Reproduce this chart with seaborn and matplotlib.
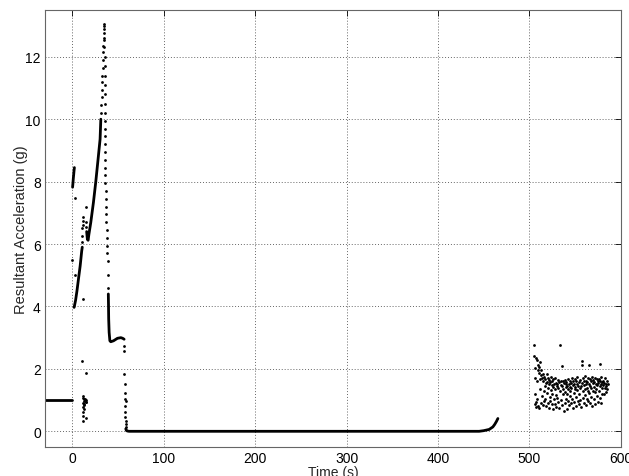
import matplotlib
matplotlib.use("Agg")
import matplotlib.pyplot as plt
import seaborn as sns

# --- resting before launch (dense trace) ---
rest_t = [-31.0, 0.0]
rest_a = [1.0, 1.0]

# short burst right at t=0
burst_t = [0.2, 0.6, 1.0, 1.4, 1.8, 2.2]
burst_a = [7.82, 7.95, 8.1, 8.22, 8.35, 8.45]

# first climb (dense)
climb_t = [1.9, 3.5, 5.0, 6.6, 8.5, 10.2, 10.8]
climb_a = [3.97, 4.2, 4.5, 4.87, 5.3, 5.78, 5.9]

# main ramp (dense)
ramp_t = [15.6, 16.4, 17.2, 18.0, 20.1, 23.0, 25.6, 28.1, 30.3, 31.1]
ramp_a = [6.4, 6.15, 6.12, 6.3, 6.69, 7.33, 8.0, 8.72, 9.36, 10.0]

# drop and plateau (dense)
plat_t = [39.3, 39.5, 39.7, 40.2, 41.0, 42.0, 45.0, 49.3, 53.0, 55.0, 56.6]
plat_a = [4.4, 4.05, 3.6, 3.17, 2.9, 2.87, 2.9, 2.98, 3.0, 2.98, 2.95]

# long zero stretch and final rise (dense)
zero_t = [58.4, 59.0, 60.0, 62.0, 445.0, 450.0, 456.0, 460.0, 462.0, 464.0, 465.5]
zero_a = [0.08, 0.03, 0.01, 0.0, 0.0, 0.02, 0.06, 0.14, 0.22, 0.32, 0.41]

# sparse samples in the first minute
early_t = [2.6, 0.0, 2.6, 11.7,
           10.9, 11.0, 11.0, 11.1, 11.1, 11.2, 14.5, 14.6, 14.6,
           11.0, 14.6, 11.3, 12.0, 12.6, 13.2, 13.8, 14.4, 11.5, 12.2, 13.0,
           11.6, 12.4, 11.2, 11.4, 11.3, 14.5, 14.8, 15.0,
           31.4, 31.7, 32.0, 32.3, 32.6, 32.9, 33.2, 33.5, 33.8, 34.0, 34.2,
           34.4, 34.6, 34.7, 34.8, 35.0, 35.1, 35.2, 35.3, 35.4, 35.5, 35.6,
           35.7, 35.8, 35.8, 35.9, 35.9, 36.0, 36.0, 36.1, 36.1, 36.2, 36.2,
           36.3, 36.4, 36.6, 36.9, 37.2, 37.5, 37.8, 38.1, 38.4, 38.7, 39.0, 39.2,
           56.7, 56.8, 57.0, 57.1, 57.3, 57.8, 58.2, 57.9, 57.9, 58.0, 58.1, 58.2, 58.3]
early_a = [7.47, 5.5, 5.0, 4.23,
           6.05, 6.25, 6.5, 6.6, 6.75, 6.87, 6.55, 6.7, 7.2,
           2.25, 1.88, 1.12, 1.08, 1.02, 0.98, 1.05, 0.95, 0.92, 0.88, 0.85,
           0.78, 0.72, 0.62, 0.49, 0.33, 0.42, 1.0, 0.93,
           10.2, 10.45, 10.7, 10.95, 11.2, 11.4, 11.65, 11.9, 12.15, 12.35, 12.55,
           12.75, 12.9, 13.05, 12.98, 12.6, 12.3, 12.0, 11.7, 11.4, 11.1, 10.8,
           10.5, 10.2, 9.95, 9.7, 9.45, 9.2, 8.95, 8.7, 8.45, 8.2, 7.95,
           7.7, 7.45, 7.2, 6.95, 6.7, 6.45, 6.2, 5.95, 5.7, 5.45, 5.0, 4.6,
           2.73, 2.57, 1.83, 1.5, 1.23, 1.05, 0.97, 0.81, 0.61, 0.45, 0.33, 0.22, 0.13]

# scattered readings after landing
land_t = [505.2, 505.4, 505.6, 505.9, 506.2, 506.5, 506.8, 507.2, 507.5, 507.9, 508.3, 508.7, 509.0, 509.4, 509.8,
          510.1, 510.5, 510.9, 511.3, 511.7, 512.0, 512.4, 512.8, 513.2, 513.6, 514.0, 514.4, 514.8,
          515.1, 515.5, 515.9, 516.3, 516.7, 517.1, 517.5, 517.9, 518.3, 518.7, 519.1, 519.5, 519.9,
          520.2, 520.6, 521.0, 521.4, 521.8, 522.2, 522.6, 523.0, 523.4, 523.8, 524.2, 524.6, 524.9,
          525.1, 525.5, 525.9, 526.3, 526.7, 527.1, 527.5, 527.9, 528.3, 528.7, 529.1, 529.5, 529.9,
          530.2, 530.6, 531.0, 531.4, 531.8, 533.4, 532.5, 532.9, 533.8, 534.2, 534.6, 535.0, 535.3,
          535.6, 536.0, 536.4, 536.8, 537.2, 537.6, 538.0, 538.4, 538.8, 539.2, 539.6, 539.9, 540.0,
          540.3, 540.7, 541.1, 541.5, 541.9, 542.3, 542.7, 543.1, 543.5, 543.9, 544.3, 544.7, 544.9,
          545.2, 545.6, 546.0, 546.4, 546.8, 547.2, 547.6, 548.0, 548.4, 548.8, 549.2, 549.6, 549.9,
          550.1, 550.5, 550.9, 551.3, 551.7, 552.1, 552.5, 552.9, 553.3, 553.7, 554.1, 554.5, 554.9,
          555.2, 555.6, 557.2, 557.5, 556.4, 556.8, 557.9, 558.3, 558.7, 559.1, 559.5, 559.8, 560.0,
          560.3, 560.7, 561.1, 561.5, 561.9, 562.3, 562.7, 563.1, 563.5, 563.9, 564.3, 564.5, 564.8,
          565.1, 565.5, 565.9, 566.3, 566.7, 567.1, 567.5, 567.9, 568.3, 568.7, 569.1, 569.5, 569.9,
          570.2, 570.6, 571.0, 571.4, 571.8, 572.2, 572.6, 573.0, 573.4, 573.8, 574.2, 574.6, 574.9,
          575.2, 575.6, 576.9, 576.4, 576.8, 577.2, 577.6, 578.0, 578.4, 578.8, 579.2, 579.6, 579.9,
          580.3, 580.8, 581.3, 581.8, 582.3, 582.8, 583.3, 583.8, 584.3, 584.8, 585.3, 585.8]
land_a = [2.77, 2.41, 1.72, 0.86, 1.19, 2.02, 0.95, 2.34, 0.78, 2.28, 1.62, 1.05, 2.12, 0.82, 1.95,
          1.88, 0.74, 2.05, 1.66, 2.23, 1.35, 0.92, 1.79, 1.98, 1.12, 1.71, 0.85, 1.84,
          1.62, 1.28, 0.96, 1.74, 1.45, 1.05, 1.68, 0.81, 1.55, 1.82, 1.22, 1.59, 0.9,
          1.7, 1.38, 0.76, 1.52, 1.64, 1.1, 0.98, 1.58, 1.33, 1.75, 0.86, 1.47, 1.2,
          1.6, 0.7, 1.42, 1.66, 1.02, 1.5, 0.88, 1.36, 1.72, 1.15, 1.55, 0.79, 1.44,
          1.52, 1.08, 1.65, 0.94, 1.4, 2.77, 1.58, 0.74, 1.3, 1.62, 1.0, 1.48, 2.09,
          1.45, 0.83, 1.6, 1.18, 1.37, 0.66, 1.55, 1.26, 0.92, 1.63, 1.41, 1.05, 1.5,
          1.58, 1.2, 0.72, 1.46, 1.66, 0.98, 1.35, 1.52, 0.84, 1.29, 1.6, 1.12, 1.43,
          0.9, 1.55, 1.38, 1.7, 1.04, 1.48, 0.75, 1.62, 1.24, 1.5, 0.95, 1.36, 1.68,
          1.42, 1.1, 1.6, 0.8, 1.5, 1.32, 1.74, 0.98, 1.45, 1.2, 1.58, 0.87, 1.38,
          1.63, 1.0, 2.25, 2.12, 1.44, 0.78, 1.55, 1.3, 1.7, 1.08, 1.48, 0.92, 1.6,
          1.35, 1.76, 1.15, 1.52, 0.84, 1.62, 1.4, 1.05, 1.57, 1.28, 1.7, 0.96, 2.12,
          1.5, 1.22, 1.68, 0.9, 1.45, 1.6, 1.1, 1.38, 1.74, 0.82, 1.55, 1.3, 1.64,
          1.42, 1.02, 1.58, 1.7, 1.25, 0.88, 1.52, 1.36, 1.66, 1.12, 1.47, 0.94, 1.6,
          1.55, 1.3, 2.15, 1.68, 1.06, 1.45, 1.62, 0.9, 1.5, 1.75, 1.2, 1.4, 1.58,
          1.48, 1.62, 1.18, 1.55, 1.38, 1.7, 1.25, 1.52, 1.44, 1.6, 1.35, 1.5]

x_ticks = [0, 100, 200, 300, 400, 500, 600]
y_ticks = [0, 2, 4, 6, 8, 10, 12]

sns.set_style("white")
plt.rcParams["font.family"] = ["Liberation Sans", "DejaVu Sans"]

fig = plt.figure(figsize=(6.29, 4.77), dpi=100)
ax = fig.add_axes([0.0715, 0.061, 0.9155, 0.916])

# dense parts of the trace look like solid lines
for t, a in [(rest_t, rest_a), (burst_t, burst_a), (climb_t, climb_a),
             (ramp_t, ramp_a), (plat_t, plat_a), (zero_t, zero_a)]:
    sns.lineplot(x=t, y=a, ax=ax, color="black", lw=2.0, sort=False,
                 estimator=None, solid_capstyle="round")

# sparse samples as individual dots
sns.scatterplot(x=early_t, y=early_a, ax=ax, color="black", s=4, linewidth=0)
sns.scatterplot(x=land_t, y=land_a, ax=ax, color="black", s=4, linewidth=0)

ax.set_xlim(-30, 600)
ax.set_ylim(-0.5, 13.5)
ax.set_xticks(x_ticks)
ax.set_yticks(y_ticks)
ax.grid(True, color="0.4", linestyle=(0, (1, 2)), linewidth=0.7)
ax.tick_params(direction="in", top=True, right=True, length=4, width=0.6,
               labelsize=10, pad=3, colors="black")
for sp in ax.spines.values():
    sp.set_color("0.4")
    sp.set_linewidth(0.8)

ax.set_xlabel("Time (s)", fontsize=10, labelpad=0)
ax.set_ylabel("Resultant Acceleration (g)", fontsize=10.5, labelpad=-2)

fig.savefig("out.png", dpi=100)
